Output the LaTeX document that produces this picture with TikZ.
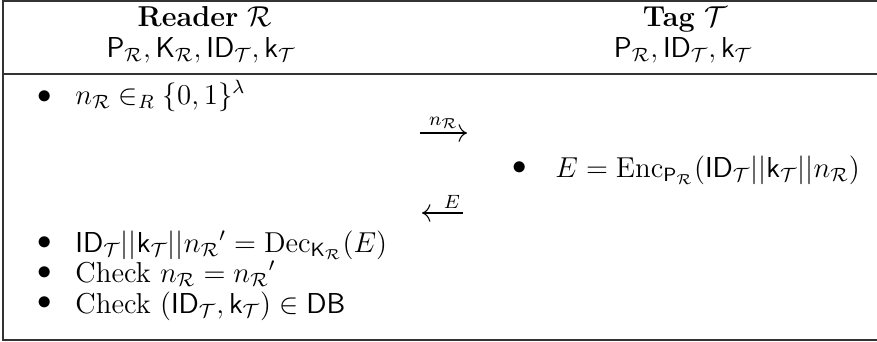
\documentclass[tikz,border=0pt]{standalone}
\usepackage{amsmath,amssymb}
\usepackage{tikz}
\usetikzlibrary{arrows.meta, positioning, calc}

\newcommand{\rdr}{\mathcal{R}}
\newcommand{\tg}{\mathcal{T}}

\begin{document}
\begin{tikzpicture}[
  x=0.41667pt, y=-0.41667pt,
  font=\large,
  frame/.style={draw=black!80, line width=0.55pt},
  dot/.style={inner sep=0pt},
  line/.style={anchor=base west, inner sep=0pt},
  head/.style={anchor=base, inner sep=0pt},
  msg/.style={-{To[length=3.5pt]}, line width=0.45pt}
]
  \useasboundingbox (0,0) rectangle (877,342);

  % frame and header rule
  \draw[frame] (877,1) -- (3,1) -- (3,340) -- (877,340);
  \draw[frame] (3,74) -- (877,74);

  % header
  \node[head] (rd) at (205,26) {\textbf{Reader} $\rdr$};
  \node[head] (rdkeys) at (201,57) {$\mathsf{P}_\rdr, \mathsf{K}_\rdr, \mathsf{ID}_\tg, \mathsf{k}_\tg$};
  \node[head] (tg) at (685,26) {\textbf{Tag} $\tg$};
  \node[head] (tgkeys) at (683,57) {$\mathsf{P}_\rdr, \mathsf{ID}_\tg, \mathsf{k}_\tg$};

  % reader: nonce
  \node[dot] (d1) at (45,97) {$\bullet$};
  \node[line] (s1) at (75,104) {$n_\rdr \in_R \{0,1\}^\lambda$};

  % first message
  \coordinate (m1a) at (420,133);
  \coordinate (m1b) at (467,133);
  \draw[msg] (m1a) -- node[above=1.5pt, inner sep=0pt] (l1) {$\scriptstyle n_\rdr$} (m1b);

  % tag: encryption
  \node[dot] (d2) at (520,168) {$\bullet$};
  \node[line] (s2) at (555,177) {$E = \mathrm{Enc}_{\mathsf{P}_\rdr}(\mathsf{ID}_\tg||\mathsf{k}_\tg||n_\rdr)$};

  % second message
  \coordinate (m2a) at (463,213);
  \coordinate (m2b) at (422,213);
  \draw[msg] (m2a) -- node[pos=0.27, above=1.5pt, inner sep=0pt] (l2) {$\scriptstyle E$} (m2b);

  % reader: checks
  \node[dot] (d3) at (45,243) {$\bullet$};
  \node[line] (s3) at (75,252) {$\mathsf{ID}_\tg||\mathsf{k}_\tg||{n_\rdr}' = \mathrm{Dec}_{\mathsf{K}_\rdr}(E)$};
  \node[dot] (d4) at (45,273) {$\bullet$};
  \node[line] (s4) at (75,282) {Check $n_\rdr = {n_\rdr}'$};
  \node[dot] (d5) at (45,303) {$\bullet$};
  \node[line] (s5) at (75,313) {Check $(\mathsf{ID}_\tg, \mathsf{k}_\tg) \in \mathsf{DB}$};
\end{tikzpicture}
\end{document}
